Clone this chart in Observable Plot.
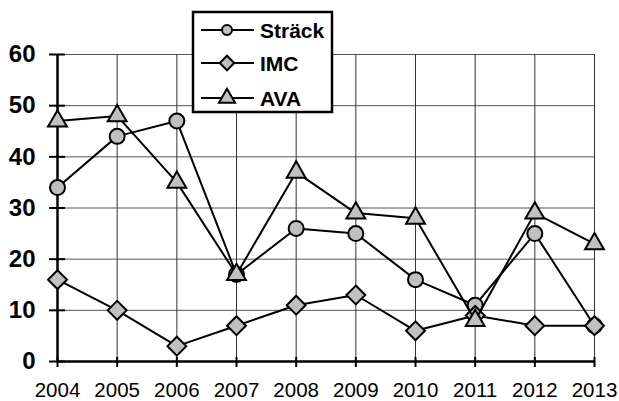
<!DOCTYPE html>
<html><head><meta charset="utf-8">
<script src="https://cdn.jsdelivr.net/npm/d3@7"></script>
<script src="https://cdn.jsdelivr.net/npm/@observablehq/plot@0.6"></script>
<style>body{margin:0;background:#fff} #chart{width:619px;height:401px}</style>
</head><body><div id="chart"></div>
<script>
const years = [2004, 2005, 2006, 2007, 2008, 2009, 2010, 2011, 2012, 2013];
const strack = [34, 44, 47, 17, 26, 25, 16, 11, 25, 7];
const imc = [16, 10, 3, 7, 11, 13, 6, 9, 7, 7];
const ava = [47, 48, 35, 17, 37, 29, 28, 8, 29, 23];
const yTicks = [0, 10, 20, 30, 40, 50, 60];
const seriesNames = ["Sträck", "IMC", "AVA"];
const seriesSymbols = ["circle", "diamond2", "triangle"];
const seriesR = [7.5, 8.5, 7];

const seriesValues = [strack, imc, ava];
const data = seriesNames.map((name, i) => years.map((year, j) => ({year, value: seriesValues[i][j], series: name})));

const FONT = "Liberation Sans, Arial, sans-serif";
const marks = [
  Plot.gridY(yTicks.filter(d => d > 0), {stroke: "#555", strokeOpacity: 1, strokeWidth: 1}),
  Plot.gridX(years.filter(d => d > 2004), {stroke: "#333", strokeOpacity: 1, strokeWidth: 1}),
  Plot.axisY(yTicks, {label: null, tickSize: 16, dx: 8, tickFormat: () => "", strokeWidth: 2, stroke: "#000"}),
  Plot.axisY(yTicks, {label: null, tickSize: 0, tickPadding: 22, fontSize: 24, fontWeight: "bold", fill: "#000"}),
  Plot.axisX(years, {label: null, tickSize: 10, dy: -4, tickFormat: () => "", strokeWidth: 2, stroke: "#000"}),
  Plot.axisX(years, {label: null, tickSize: 0, tickPadding: 21, fontSize: 20.5, fill: "#000", tickFormat: d => String(d)}),
  Plot.ruleX([2004], {stroke: "#000", strokeWidth: 2.5}),
  Plot.ruleY([0], {stroke: "#000", strokeWidth: 2.5})
];
data.forEach((s, i) => {
  marks.push(Plot.line(s, {x: "year", y: "value", stroke: "#000", strokeWidth: 2}));
  marks.push(Plot.dot(s, {x: "year", y: "value", symbol: () => seriesSymbols[i], r: seriesR[i], fill: "#c0c0c0", stroke: "#000", strokeWidth: 2}));
});

const plot = Plot.plot({
  width: 619, height: 401,
  marginLeft: 57, marginRight: 25, marginTop: 54, marginBottom: 40,
  style: {fontFamily: FONT, background: "#fff", overflow: "visible"},
  x: {type: "linear", domain: [2004, 2013], label: null},
  y: {domain: [0, 60], label: null},
  symbol: {type: "identity"},
  marks
});

// Legend drawn inside the SVG
const svg = d3.select(plot);
const lg = svg.append("g").attr("font-family", FONT).attr("text-anchor", "start");
lg.append("rect").attr("x", 193).attr("y", 12).attr("width", 139).attr("height", 100)
  .attr("fill", "#fff").attr("stroke", "#000").attr("stroke-width", 2.5);
const rowY = [30, 63, 98];
const legendSym = [d3.symbolCircle, d3.symbolDiamond2, d3.symbolTriangle];
const legendR = [5, 6.5, 6];
seriesNames.forEach((name, i) => {
  const g = lg.append("g").attr("transform", `translate(0,${rowY[i]})`);
  g.append("line").attr("x1", 201).attr("x2", 254).attr("y1", 0).attr("y2", 0).attr("stroke", "#000").attr("stroke-width", 2);
  g.append("path").attr("transform", "translate(227,0)")
    .attr("d", d3.symbol(legendSym[i], Math.PI * legendR[i] ** 2)())
    .attr("fill", "#c0c0c0").attr("stroke", "#000").attr("stroke-width", 2);
  g.append("text").attr("x", 260).attr("y", 0).attr("dy", "0.36em").attr("text-anchor", "start")
    .attr("font-size", 21).attr("font-weight", "bold").attr("fill", "#000").text(name);
});

document.getElementById("chart").appendChild(plot);
</script>
</body></html>
